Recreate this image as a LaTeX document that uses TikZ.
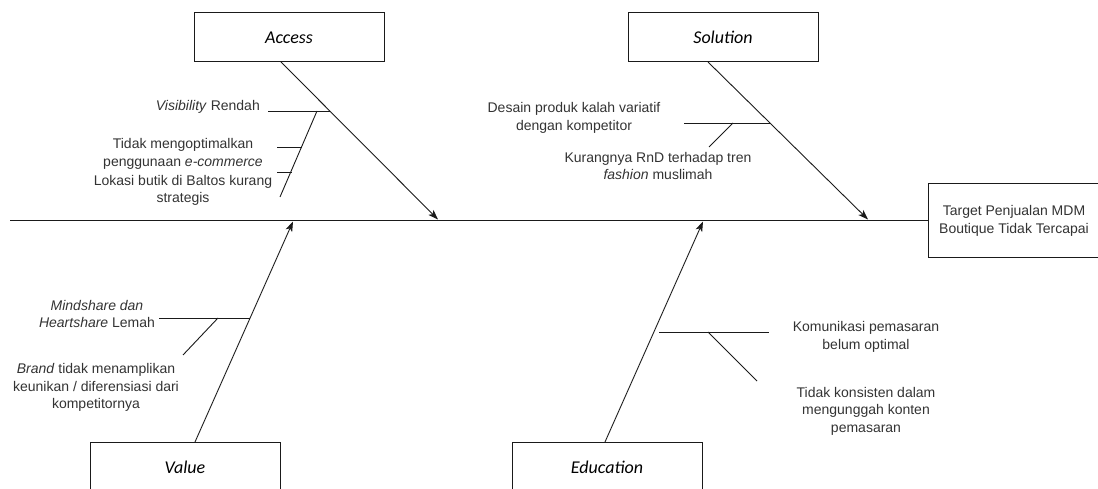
\documentclass[tikz,border=0pt]{standalone}
\usepackage{fontspec}
\setmainfont{Liberation Sans}
\newfontfamily\boxfont{Carlito}
\usetikzlibrary{arrows.meta}
\definecolor{txt}{HTML}{333333}
\definecolor{ln}{HTML}{1A1A1A}
\tikzset{
  catbox/.style={draw=ln, line width=1pt, fill=white, minimum width=190pt, minimum height=49pt, inner sep=0pt, font=\boxfont\itshape\fontsize{18}{22}\selectfont},
  effbox/.style={draw=ln, line width=1pt, fill=white, minimum width=172pt, minimum height=74pt, inner sep=0pt, align=center, text=txt, font=\fontsize{14}{17.5}\selectfont},
  lbl/.style={text=txt, align=center, inner sep=0pt, font=\fontsize{14}{17.5}\selectfont},
  bone/.style={draw=ln, line width=0.9pt, -{Stealth[length=10pt,width=7pt,inset=2.5pt]}},
  sub/.style={draw=ln, line width=0.9pt},
}
\begin{document}
\begin{tikzpicture}[x=1pt,y=-1pt]
\useasboundingbox (0,0) rectangle (1098,489);
\clip (0,0) rectangle (1098,489);
% boxes
\node[catbox] (access) at (289,37.5) {Access};
\node[catbox] (solution) at (723,37.5) {Solution};
\node[catbox, minimum height=50pt] (value) at (185,467) {Value};
\node[catbox, minimum height=50pt] (education) at (607,467) {Education};
\node[effbox] (target) at (1014,221) {Target Penjualan MDM\\Boutique Tidak Tercapai};
% spine
\coordinate (spineS) at (10,220.5);
\draw[sub] (spineS) -- (target.west |- spineS);
% main bones
\coordinate (aS) at (281,62);   \coordinate (aT) at (438,219.5);
\coordinate (sS) at (708,62);   \coordinate (sT) at (868,219.5);
\coordinate (vS) at (195,442);  \coordinate (vT) at (293,221.5);
\coordinate (eS) at (605,442);  \coordinate (eT) at (703,221.5);
\draw[bone] (aS) -- (aT);
\draw[bone] (sS) -- (sT);
\draw[bone] (vS) -- (vT);
\draw[bone] (eS) -- (eT);
% access sub-bones
\coordinate (a1a) at (268,111); \coordinate (a1b) at (330,111);
\coordinate (a2a) at (317,111); \coordinate (a2b) at (280,197);
\coordinate (a3a) at (277,147); \coordinate (a3b) at (302,147);
\coordinate (a4a) at (277,172); \coordinate (a4b) at (292,172);
\draw[sub] (a1a) -- (a1b);
\draw[sub] (a2a) -- (a2b);
\draw[sub] (a3a) -- (a3b);
\draw[sub] (a4a) -- (a4b);
\node[lbl, anchor=east] (vis) at (260,106.5) {\textit{Visibility} Rendah};
\node[lbl] (ecom) at (183,154) {Tidak mengoptimalkan\\penggunaan \textit{e-commerce}};
\node[lbl] (lokasi) at (183,190.5) {Lokasi butik di Baltos kurang\\strategis};
% solution sub-bones
\coordinate (s1a) at (684,123); \coordinate (s1b) at (770,123);
\coordinate (s2a) at (733,123); \coordinate (s2b) at (709,147);
\draw[sub] (s1a) -- (s1b);
\draw[sub] (s2a) -- (s2b);
\node[lbl] (desain) at (574,118) {Desain produk kalah variatif\\dengan kompetitor};
\node[lbl] (rnd) at (658,166) {Kurangnya RnD terhadap tren\\\textit{fashion} muslimah};
% value sub-bones
\coordinate (v1a) at (159,318); \coordinate (v1b) at (250,318);
\coordinate (v2a) at (218,318); \coordinate (v2b) at (183,355);
\draw[sub] (v1a) -- (v1b);
\draw[sub] (v2a) -- (v2b);
\node[lbl] (mind) at (97,314) {\textit{Mindshare dan}\\\textit{Heartshare} Lemah};
\node[lbl] (brand) at (96,387.5) {\textit{Brand} tidak menamplikan\\keunikan / diferensiasi dari\\kompetitornya};
% education sub-bones
\coordinate (e1a) at (659,332); \coordinate (e1b) at (769,332);
\coordinate (e2a) at (708,332); \coordinate (e2b) at (757,381);
\draw[sub] (e1a) -- (e1b);
\draw[sub] (e2a) -- (e2b);
\node[lbl] (komun) at (866,337) {Komunikasi pemasaran\\belum optimal};
\node[lbl] (konsisten) at (866,411) {Tidak konsisten dalam\\mengunggah konten\\pemasaran};
\end{tikzpicture}
\end{document}
